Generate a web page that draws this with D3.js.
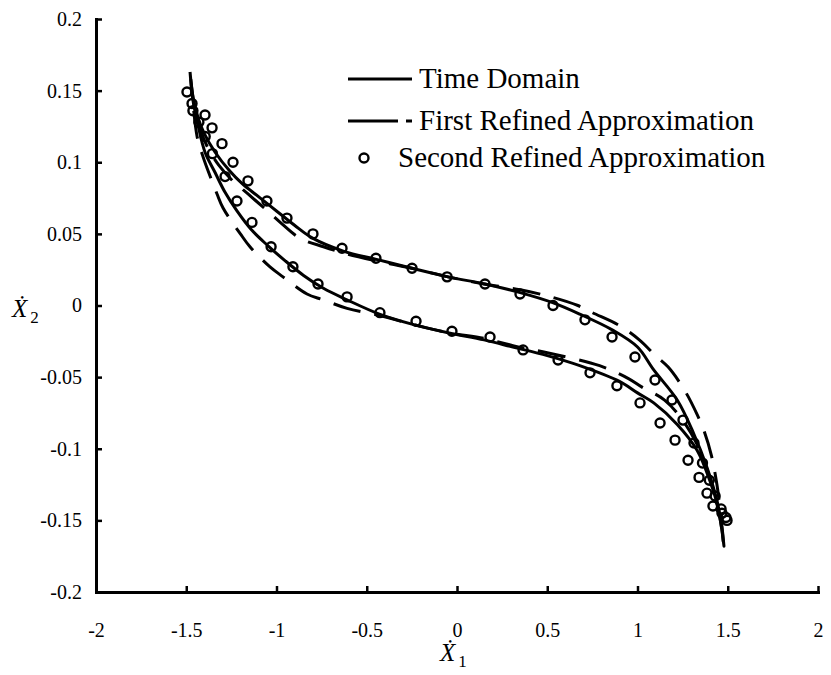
<!DOCTYPE html>
<html>
<head>
<meta charset="utf-8">
<script src="https://cdn.jsdelivr.net/npm/d3@7/dist/d3.min.js"></script>
<style>
  body { margin: 0; background: #fff; }
  svg { display: block; }
  text { font-family: "Liberation Serif", "Times New Roman", serif; fill: #000; }
</style>
</head>
<body>
<svg id="chart" width="831" height="675"></svg>
<script>
// Axis ticks
const xTickValues = [-2, -1.5, -1, -0.5, 0, 0.5, 1, 1.5, 2];
const xTickLabels = ["-2", "-1.5", "-1", "-0.5", "0", "0.5", "1", "1.5", "2"];
const yTickValues = [0.2, 0.15, 0.1, 0.05, 0, -0.05, -0.1, -0.15, -0.2];
const yTickLabels = ["0.2", "0.15", "0.1", "0.05", "0", "-0.05", "-0.1", "-0.15", "-0.2"];

// Legend entries
const seriesNames = ["Time Domain", "First Refined Approximation", "Second Refined Approximation"];

// Time domain response: upper and lower branches of the loop, left tip to right tip
const timeDomainUpper = [
  [-1.479, 0.163], [-1.462, 0.145], [-1.432, 0.130], [-1.400, 0.120], [-1.340, 0.107],
  [-1.260, 0.094], [-1.190, 0.085], [-1.100, 0.076], [-1.000, 0.066], [-0.900, 0.056],
  [-0.800, 0.047], [-0.630, 0.038], [-0.440, 0.032], [-0.250, 0.026], [-0.050, 0.020],
  [0.155, 0.015], [0.350, 0.009], [0.530, 0.002], [0.680, -0.006], [0.860, -0.017],
  [1.000, -0.029], [1.090, -0.045], [1.220, -0.066], [1.310, -0.089], [1.385, -0.113],
  [1.440, -0.136], [1.468, -0.155], [1.479, -0.168]
];
const timeDomainLower = [
  [-1.479, 0.163], [-1.465, 0.145], [-1.435, 0.126], [-1.396, 0.107], [-1.341, 0.093],
  [-1.285, 0.079], [-1.219, 0.066], [-1.140, 0.053], [-1.050, 0.042], [-0.950, 0.031],
  [-0.850, 0.021], [-0.740, 0.012], [-0.610, 0.004], [-0.430, -0.006], [-0.250, -0.013],
  [-0.050, -0.019], [0.150, -0.024], [0.310, -0.029], [0.500, -0.035], [0.680, -0.042],
  [0.900, -0.053], [1.000, -0.061], [1.090, -0.068], [1.220, -0.083], [1.330, -0.101],
  [1.400, -0.122], [1.446, -0.141], [1.479, -0.168]
];

// First refined approximation
const firstRefinedUpper = [
  [-1.475, 0.158], [-1.450, 0.135], [-1.420, 0.122], [-1.380, 0.110], [-1.320, 0.098],
  [-1.250, 0.088], [-1.150, 0.077], [-1.050, 0.066], [-0.970, 0.057], [-0.870, 0.047],
  [-0.740, 0.041], [-0.610, 0.036], [-0.440, 0.031], [-0.250, 0.026], [-0.050, 0.020],
  [0.150, 0.015], [0.350, 0.011], [0.520, 0.006], [0.670, 0.000], [0.750, -0.005],
  [0.900, -0.014], [1.010, -0.024], [1.100, -0.035], [1.170, -0.043], [1.260, -0.059],
  [1.330, -0.076], [1.370, -0.088], [1.410, -0.105], [1.440, -0.125], [1.460, -0.145],
  [1.475, -0.165]
];
const firstRefinedLower = [
  [-1.475, 0.158], [-1.440, 0.118], [-1.410, 0.105], [-1.385, 0.096], [-1.330, 0.078],
  [-1.296, 0.068], [-1.200, 0.050], [-1.147, 0.041], [-1.036, 0.027], [-0.964, 0.020],
  [-0.831, 0.008], [-0.742, 0.004], [-0.609, -0.002], [-0.430, -0.007], [-0.250, -0.013],
  [-0.050, -0.019], [0.150, -0.023], [0.310, -0.028], [0.500, -0.033], [0.790, -0.042],
  [0.950, -0.051], [1.025, -0.057], [1.150, -0.066], [1.250, -0.080], [1.330, -0.097],
  [1.390, -0.116], [1.435, -0.136], [1.462, -0.152], [1.475, -0.165]
];

// Second refined approximation (markers)
const secondRefinedUpper = [
  [-1.496, 0.149], [-1.468, 0.141], [-1.396, 0.133], [-1.357, 0.124], [-1.302, 0.113],
  [-1.241, 0.100], [-1.158, 0.087], [-1.053, 0.073], [-0.942, 0.061], [-0.798, 0.050],
  [-0.637, 0.040], [-0.449, 0.033], [-0.249, 0.026], [-0.055, 0.020], [0.155, 0.015],
  [0.349, 0.008], [0.532, 0.000], [0.709, -0.010], [0.859, -0.022], [0.986, -0.036],
  [1.097, -0.052], [1.191, -0.066], [1.252, -0.080], [1.313, -0.096], [1.360, -0.110],
  [1.398, -0.122], [1.430, -0.133], [1.463, -0.142], [1.490, -0.148]
];
const secondRefinedLower = [
  [-1.463, 0.136], [-1.430, 0.128], [-1.395, 0.118], [-1.355, 0.106], [-1.285, 0.090],
  [-1.219, 0.073], [-1.136, 0.058], [-1.030, 0.041], [-0.909, 0.027], [-0.770, 0.015],
  [-0.609, 0.006], [-0.427, -0.005], [-0.227, -0.011], [-0.028, -0.018], [0.183, -0.022],
  [0.366, -0.031], [0.560, -0.038], [0.737, -0.047], [0.886, -0.056], [1.014, -0.068],
  [1.125, -0.082], [1.208, -0.094], [1.280, -0.108], [1.341, -0.120], [1.385, -0.131],
  [1.418, -0.140], [1.468, -0.145], [1.496, -0.150]
];

const svg = d3.select("#chart");
const plot = { left: 96, right: 818, top: 19, bottom: 592 };

const x = d3.scaleLinear().domain([-2, 2]).range([plot.left, plot.right]);
const y = d3.scaleLinear().domain([-0.2, 0.2]).range([plot.bottom, plot.top]);

// Axes with inward ticks
const xAxis = d3.axisBottom(x)
  .tickValues(xTickValues)
  .tickFormat((d, i) => xTickLabels[i])
  .tickSizeInner(-6).tickSizeOuter(0).tickPadding(31);
const yAxis = d3.axisLeft(y)
  .tickValues(yTickValues)
  .tickFormat((d, i) => yTickLabels[i])
  .tickSizeInner(-6).tickSizeOuter(0).tickPadding(14);

const gx = svg.append("g").attr("transform", `translate(0,${plot.bottom})`).call(xAxis);
const gy = svg.append("g").attr("transform", `translate(${plot.left},0)`).call(yAxis);

[gx, gy].forEach(g => {
  g.select(".domain").attr("stroke", "#000").attr("stroke-width", 3).attr("stroke-linecap", "square");
  g.selectAll(".tick line").attr("stroke", "#000").attr("stroke-width", 2.5);
  g.selectAll(".tick text")
    .attr("font-family", "Liberation Serif, Times New Roman, serif")
    .attr("font-size", 20).attr("fill", "#000");
});

// Loop builder: upper branch then lower branch back to the start
const loop = (upper, lower) => upper.concat(lower.slice().reverse());
const line = d3.line()
  .x(d => x(d[0])).y(d => y(d[1]))
  .curve(d3.curveCatmullRom.alpha(0.5));

svg.append("path")
  .datum(loop(firstRefinedUpper, firstRefinedLower))
  .attr("d", line)
  .attr("fill", "none").attr("stroke", "#000").attr("stroke-width", 3)
  .attr("stroke-dasharray", "28,14");

svg.append("path")
  .datum(loop(timeDomainUpper, timeDomainLower))
  .attr("d", line)
  .attr("fill", "none").attr("stroke", "#000").attr("stroke-width", 3)
  .attr("stroke-linejoin", "round");

svg.append("g").selectAll("circle")
  .data(secondRefinedUpper.concat(secondRefinedLower))
  .join("circle")
  .attr("cx", d => x(d[0])).attr("cy", d => y(d[1]))
  .attr("r", 4.5)
  .attr("fill", "none").attr("stroke", "#000").attr("stroke-width", 2.4);

// Legend
const legend = svg.append("g");
legend.append("line").attr("x1", 348).attr("x2", 412).attr("y1", 79).attr("y2", 79)
  .attr("stroke", "#000").attr("stroke-width", 3);
legend.append("line").attr("x1", 348).attr("x2", 412).attr("y1", 121).attr("y2", 121)
  .attr("stroke", "#000").attr("stroke-width", 3).attr("stroke-dasharray", "50,8,6");
legend.append("circle").attr("cx", 364).attr("cy", 158).attr("r", 4.5)
  .attr("fill", "none").attr("stroke", "#000").attr("stroke-width", 2.4);
const legendText = [[419, 88], [419, 130], [398, 167]];
legend.selectAll("text").data(seriesNames).join("text")
  .attr("x", (d, i) => legendText[i][0]).attr("y", (d, i) => legendText[i][1])
  .attr("font-size", 29)
  .text(d => d);

// Axis titles: dotted X with subscripts
const yTitle = svg.append("text").attr("x", 12).attr("y", 317);
yTitle.append("tspan").attr("font-style", "italic").attr("font-size", 25).text("\u1E8A");
yTitle.append("tspan").attr("font-size", 17).attr("dy", 6).attr("dx", 3).text("2");

const xTitle = svg.append("text").attr("x", 440).attr("y", 661);
xTitle.append("tspan").attr("font-style", "italic").attr("font-size", 25).text("\u1E8A");
xTitle.append("tspan").attr("font-size", 17).attr("dy", 6).attr("dx", 3).text("1");
</script>
</body>
</html>
